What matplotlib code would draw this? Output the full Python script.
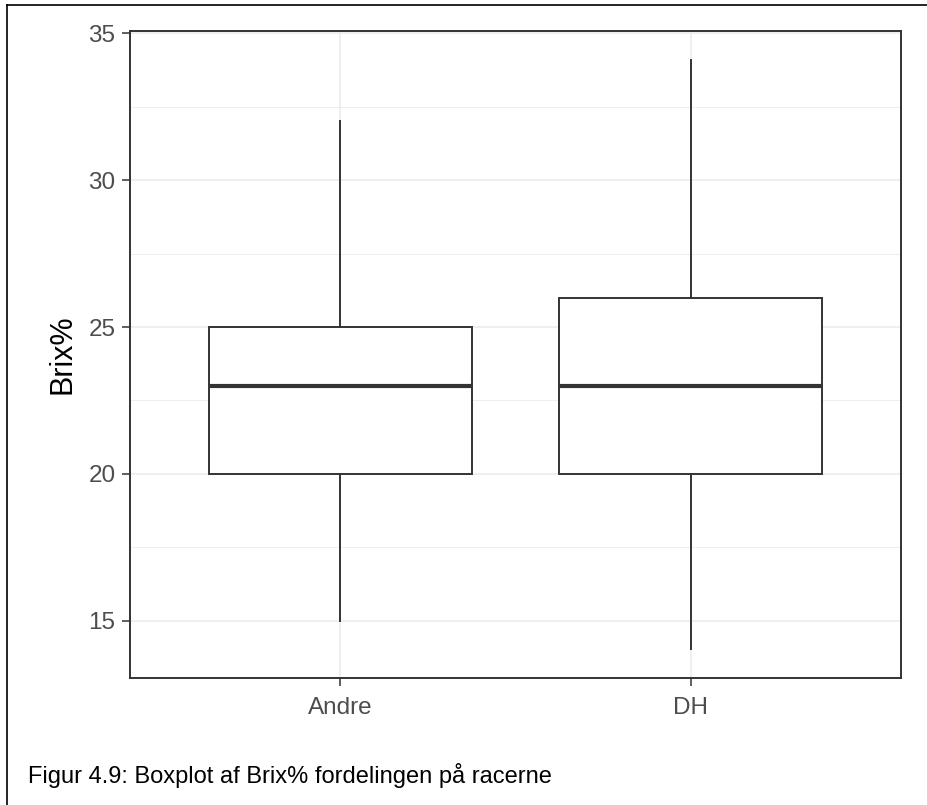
import matplotlib.pyplot as plt
from matplotlib.lines import Line2D

plt.rcParams['font.family'] = ['Liberation Sans', 'DejaVu Sans']

groups = ["Andre", "DH"]
whislo = [15.0, 14.05]
q1 = [20.0, 20.0]
med = [23.0, 23.0]
q3 = [25.0, 26.0]
whishi = [32.0, 34.08]

caption = "Figur 4.9: Boxplot af Brix% fordelingen på racerne"

W, H = 928, 805
fig = plt.figure(figsize=(W / 100, H / 100), dpi=100)
ax = fig.add_axes([130 / W, 1 - 678 / H, (901 - 130) / W, (678 - 31) / H])

stats = []
for i, g in enumerate(groups):
    stats.append(dict(label=g, whislo=whislo[i], q1=q1[i], med=med[i],
                      q3=q3[i], whishi=whishi[i], fliers=[]))

dark = "#333333"
ax.bxp(stats, positions=[1, 2], widths=0.75, showcaps=False, patch_artist=True,
       boxprops=dict(facecolor="white", edgecolor=dark, linewidth=1.4),
       whiskerprops=dict(color=dark, linewidth=1.4),
       medianprops=dict(color=dark, linewidth=3.0),
       zorder=3)

ax.set_xlim(0.4, 2.6)
ax.set_ylim(13.05, 35.08)
ax.set_yticks([15, 20, 25, 30, 35])
ax.set_yticks([17.5, 22.5, 27.5, 32.5], minor=True)
ax.set_xticks([1, 2])
ax.set_xticklabels(groups)

ax.grid(True, which="major", color="#ebebeb", linewidth=1.1, zorder=0)
ax.grid(True, which="minor", axis="y", color="#ebebeb", linewidth=0.6, zorder=0)
ax.set_axisbelow(True)
ax.tick_params(axis="both", which="major", length=5.5, width=1.1, color=dark,
               labelcolor="#4d4d4d", labelsize=17.5)
ax.tick_params(axis="x", which="major", pad=8)
ax.tick_params(axis="y", which="major", pad=5)
ax.tick_params(axis="y", which="minor", length=0)
for s in ax.spines.values():
    s.set_color(dark)
    s.set_linewidth(1.4)

ax.set_ylabel("Brix%", fontsize=22, color="black", labelpad=8)

# outer frame of the figure
fig.add_artist(Line2D([7 / W, 7 / W], [0, 1 - 5 / H], transform=fig.transFigure,
                      color="black", linewidth=1.2))
fig.add_artist(Line2D([7 / W, 1], [1 - 5 / H, 1 - 5 / H], transform=fig.transFigure,
                      color="black", linewidth=1.2))

fig.text(28 / W, 1 - 783 / H, caption, fontsize=17, color="black",
         ha="left", va="baseline")

fig.savefig("out.png", dpi=100)
